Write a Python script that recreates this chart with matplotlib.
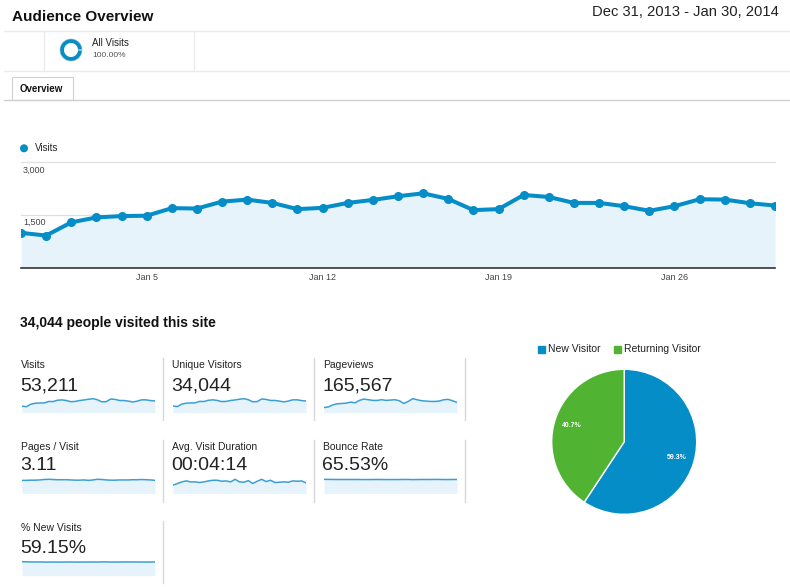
import numpy as np
import matplotlib
matplotlib.use("Agg")
import matplotlib.pyplot as plt
from matplotlib.patches import Wedge, Rectangle, Circle

plt.rcParams['font.family'] = ['Liberation Sans', 'DejaVu Sans']

W, H = 790, 587
BLUE = '#058DC7'
GREEN = '#50B432'
FILL = '#E6F3FA'

# ---- data ----
visits = [985, 909, 1283, 1424, 1463, 1472, 1688, 1677, 1874, 1930, 1837,
          1660, 1697, 1837, 1922, 2026, 2110, 1950, 1632, 1660, 2062, 2006,
          1837, 1837, 1744, 1612, 1744, 1941, 1932, 1828, 1762]
x_tick_pos = [5, 12, 19, 26]
x_tick_labels = ['Jan 5', 'Jan 12', 'Jan 19', 'Jan 26']
y_ticks = [1500, 3000]
y_tick_labels = ['1,500', '3,000']

unique_visitors = [640, 590, 830, 920, 940, 950, 1090, 1080, 1200, 1240, 1180,
                   1070, 1090, 1180, 1230, 1300, 1350, 1250, 1050, 1070, 1320,
                   1280, 1180, 1180, 1120, 1040, 1120, 1240, 1240, 1170, 1130]
pageviews = [2430, 2754, 3726, 4212, 4374, 4536, 5022, 4698, 5832, 6480, 6156,
             5832, 5832, 6156, 5832, 5994, 6156, 5670, 4374, 5346, 6642, 6156,
             5670, 5508, 5346, 5346, 5508, 6156, 6318, 5670, 4860]
pages_per_visit = [3.0, 3.0, 3.05, 3.05, 3.1, 3.2, 3.25, 3.2, 3.15, 3.15, 3.15,
                   3.1, 3.05, 3.05, 3.1, 3.0, 3.1, 3.25, 3.2, 3.1, 3.05, 3.05,
                   3.1, 3.1, 3.1, 3.15, 3.15, 3.2, 3.15, 3.1, 3.0]
avg_duration = [176, 212, 247, 268, 247, 247, 233, 247, 268, 282, 282, 261, 268,
                247, 303, 247, 240, 275, 212, 261, 303, 254, 282, 233, 240, 247,
                240, 268, 261, 268, 226]
bounce_rate = [66.5, 66.0, 65.8, 65.6, 65.5, 65.5, 65.6, 65.5, 65.4, 65.3, 65.3,
               65.5, 65.6, 65.4, 65.3, 65.2, 65.3, 65.4, 65.8, 65.7, 65.1, 65.3,
               65.6, 65.5, 65.6, 65.9, 65.7, 65.4, 65.4, 65.6, 65.8]
new_visits_pct = [60.5, 60.0, 59.5, 59.2, 59.4, 59.0, 58.8, 59.2, 59.0, 58.9, 59.1,
                  59.3, 59.0, 58.8, 59.0, 59.2, 59.3, 59.0, 59.5, 59.6, 58.9, 59.0,
                  59.2, 59.3, 59.5, 59.4, 59.2, 59.0, 58.9, 59.1, 59.3]

metric_names = ['Visits', 'Unique Visitors', 'Pageviews', 'Pages / Visit',
                'Avg. Visit Duration', 'Bounce Rate', '% New Visits']
metric_values = ['53,211', '34,044', '165,567', '3.11', '00:04:14', '65.53%', '59.15%']
metric_series = [visits, unique_visitors, pageviews, pages_per_visit,
                 avg_duration, bounce_rate, new_visits_pct]

pie_labels = ['New Visitor', 'Returning Visitor']
pie_values = [59.3, 40.7]
pie_colors = [BLUE, GREEN]

fig = plt.figure(figsize=(W / 100, H / 100), dpi=100)
fig.patch.set_facecolor('white')


def px_axes(x, y, w, h, **kw):
    return fig.add_axes([x / W, 1 - (y + h) / H, w / W, h / H], **kw)


# overlay for header, text and dividers
ov = px_axes(0, 0, W, H)
ov.set_xlim(0, W)
ov.set_ylim(H, 0)
ov.axis('off')

ov.text(12, 17, 'Audience Overview', fontsize=11, fontweight='bold', va='center', color='#111')
ov.text(779, 12.5, 'Dec 31, 2013 - Jan 30, 2014', fontsize=10.6, ha='right', va='center', color='#222')

for yy in (30.7, 70.7):
    ov.plot([4, W], [yy, yy], color='#EBEBEB', lw=1)
for xx in (44, 194):
    ov.plot([xx, xx], [30.7, 70.7], color='#EBEBEB', lw=1)
ov.plot([4, W], [100, 100], color='#CFCFCF', lw=1)
ov.add_patch(Rectangle((12, 77), 61, 23, facecolor='white', edgecolor='#D0D0D0', lw=0.8))
ov.text(20, 89, 'Overview', fontsize=7, fontweight='bold', va='center', color='#111')

# segment donut icon
ov.add_patch(Circle((71, 50), 11, facecolor='none', edgecolor='#B8C8D2', lw=0.6))
ov.add_patch(Wedge((71, 50), 10.8, 3, 357, width=3.8, facecolor=BLUE, edgecolor='none'))
ov.text(92, 43, 'All Visits', fontsize=7, va='center', color='#222')
ov.text(92, 55.5, '100.00%', fontsize=6, va='center', color='#555')

# main chart legend
ov.add_patch(Circle((24, 148.3), 3.3, color=BLUE))
ov.text(35, 148.3, 'Visits', fontsize=7, va='center', color='#222')

# ---- main chart ----
ax = px_axes(21, 162, 754, 105.5)
x = np.arange(len(visits))
ax.fill_between(x, visits, color=FILL, lw=0)
ax.plot(x, visits, color=BLUE, lw=2.9, marker='o', markersize=5.5, solid_capstyle='round')
ax.set_xlim(0, len(visits) - 1)
ax.set_ylim(0, 3000)
for v in y_ticks:
    ax.axhline(v, color='#E0E0E0', lw=0.9, zorder=0, clip_on=False)
ax.set_yticks([])
for v, lab in zip(y_ticks, y_tick_labels):
    ax.annotate(lab, (0, v), xycoords=('axes fraction', 'data'), xytext=(1.5, -2.5),
                textcoords='offset points', va='top', ha='left', fontsize=6.5, color='#444')
ax.set_xticks(x_tick_pos)
ax.set_xticklabels(x_tick_labels, fontsize=6.5, color='#444')
ax.tick_params(axis='x', length=0, pad=4)
for s in ('top', 'left', 'right'):
    ax.spines[s].set_visible(False)
ax.spines['bottom'].set_color('#333333')
ax.spines['bottom'].set_linewidth(1.2)

# ---- metrics ----
ov.text(20, 323.5, '34,044 people visited this site', fontsize=10, fontweight='bold',
        va='center', color='#111')

col_x = [21, 172, 323]
row_label_y = [365, 446.7, 528.3]
row_value_y = [385.7, 466, 548.3]
row_spark_bottom = [412.7, 493.3, 575.7]

for i, (name, val, series) in enumerate(zip(metric_names, metric_values, metric_series)):
    r, c = divmod(i, 3)
    ov.text(col_x[c], row_label_y[r], name, fontsize=7.5, va='center', color='#222')
    ov.text(col_x[c] - 1, row_value_y[r], val, fontsize=14, va='center', color='#222')
    sp = px_axes(col_x[c] + 1, row_spark_bottom[r] - 20, 133, 20)
    sx = np.arange(len(series))
    top = max(series) * 20 / 14.0
    sp.fill_between(sx, series, color=FILL, lw=0)
    sp.plot(sx, series, color='#3A9FD6', lw=1.1)
    sp.set_xlim(0, len(series) - 1)
    sp.set_ylim(0, top)
    sp.axis('off')

div_col = '#D8D8D8'
for xx in (163, 314, 465):
    ov.plot([xx, xx], [358, 420], color=div_col, lw=1)
    ov.plot([xx, xx], [440, 502], color=div_col, lw=1)
ov.plot([163, 163], [521, 583], color=div_col, lw=1)

# ---- pie ----
pa = px_axes(624.2 - 72.5, 441.8 - 72.5, 145, 145)
wedges, _, autot = pa.pie(pie_values, colors=pie_colors, startangle=90, counterclock=False,
                          autopct='%.1f%%', pctdistance=0.76,
                          wedgeprops=dict(edgecolor='white', linewidth=1),
                          textprops=dict(color='white', fontsize=5, fontweight='bold'))
pa.set_xlim(-1, 1)
pa.set_ylim(-1, 1)
pa.set_aspect('equal')

leg_x = [537.5, 613.5]
for lab, col, lx in zip(pie_labels, pie_colors, leg_x):
    ov.add_patch(Rectangle((lx, 345.5), 7, 7, color=col))
    ov.text(lx + 11, 349.3, lab, fontsize=7.5, va='center', color='#222')

fig.savefig('out.png', dpi=100, facecolor='white')
